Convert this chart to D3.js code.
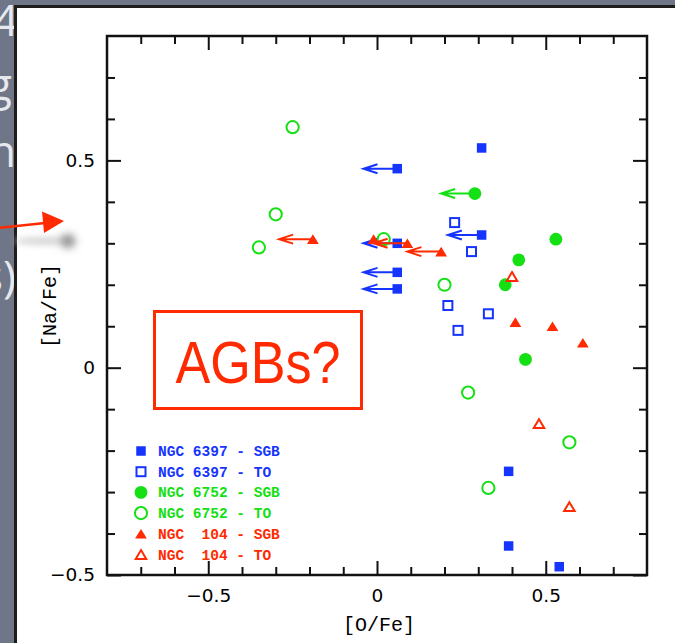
<!DOCTYPE html>
<html>
<head>
<meta charset="utf-8">
<script src="https://cdn.jsdelivr.net/npm/d3@7"></script>
<style>
  html, body { margin: 0; padding: 0; background: #6f7687; }
  svg { display: block; }
  .tick text { font-family: "DejaVu Sans", sans-serif; font-size: 18.5px; fill: #000; }
</style>
</head>
<body>
<svg id="chart" width="675" height="643"></svg>
<script>
// [O/Fe] vs [Na/Fe] for SGB and turn-off stars in three globular clusters.
// Each point: [O/Fe, Na/Fe, upper limit on O (true/false)]
const ngc6397Sgb = [
  [0.31, 0.53, false], [0.06, 0.48, true], [0.31, 0.32, true], [0.06, 0.30, true],
  [0.06, 0.23, true], [0.06, 0.19, true], [0.39, -0.25, false], [0.39, -0.43, false],
  [0.54, -0.48, false]
];
const ngc6397To = [
  [0.23, 0.35, false], [0.28, 0.28, false], [0.21, 0.15, false], [0.33, 0.13, false],
  [0.24, 0.09, false]
];
const ngc6752Sgb = [
  [0.29, 0.42, true], [0.53, 0.31, false], [0.42, 0.26, false], [0.38, 0.20, false],
  [0.44, 0.02, false]
];
const ngc6752To = [
  [-0.25, 0.58, false], [-0.30, 0.37, false], [-0.35, 0.29, false], [0.02, 0.31, false],
  [0.20, 0.20, false], [0.27, -0.06, false], [0.57, -0.18, false], [0.33, -0.29, false]
];
const ngc104Sgb = [
  [-0.19, 0.31, true], [-0.01, 0.31, false], [0.09, 0.30, true], [0.19, 0.28, true],
  [0.41, 0.11, false], [0.52, 0.10, false], [0.61, 0.06, false]
];
const ngc104To = [
  [0.40, 0.22, false], [0.48, -0.135, false], [0.57, -0.335, false]
];

const legendLabels = [
  "NGC 6397 - SGB", "NGC 6397 - TO", "NGC 6752 - SGB",
  "NGC 6752 - TO", "NGC  104 - SGB", "NGC  104 - TO"
];
const xMajorTicks = [-0.5, 0, 0.5];
const yMajorTicks = [-0.5, 0, 0.5];
const xMinorTicks = [-0.7, -0.6, -0.4, -0.3, -0.2, -0.1, 0.1, 0.2, 0.3, 0.4, 0.6, 0.7];
const yMinorTicks = [-0.4, -0.3, -0.2, -0.1, 0.1, 0.2, 0.3, 0.4, 0.6, 0.7];
const limitArrowLength = 0.1;   // length of upper-limit arrows in [O/Fe] units
const calloutText = "AGBs?";

const BLUE = "#1535ff", GREEN = "#14e014", RED = "#ff2a00";

const series = [
  { data: ngc6397Sgb, color: BLUE,  shape: "square",   filled: true  },
  { data: ngc6397To,  color: BLUE,  shape: "square",   filled: false },
  { data: ngc6752Sgb, color: GREEN, shape: "circle",   filled: true  },
  { data: ngc6752To,  color: GREEN, shape: "circle",   filled: false },
  { data: ngc104Sgb,  color: RED,   shape: "triangle", filled: true  },
  { data: ngc104To,   color: RED,   shape: "triangle", filled: false }
];

const svg = d3.select("#chart");
const W = 675, H = 643;

// ---- slide backdrop behind the figure panel ----
const defs = svg.append("defs");
defs.append("filter").attr("id", "soft").attr("x", "-100%").attr("y", "-100%")
  .attr("width", "300%").attr("height", "300%")
  .append("feGaussianBlur").attr("stdDeviation", 4);
defs.append("filter").attr("id", "haze").attr("x", "-50%").attr("y", "-200%")
  .attr("width", "200%").attr("height", "500%")
  .append("feGaussianBlur").attr("stdDeviation", 3);

svg.append("rect").attr("width", W).attr("height", H).attr("fill", "#6f7687");

const slideText = svg.append("g")
  .attr("font-family", "'Open Sans', 'DejaVu Sans', sans-serif")
  .attr("font-size", 44).attr("fill", "#e6e8ee").attr("font-weight", 400);
slideText.append("text").attr("x", -7).attr("y", 36).text("4");
slideText.append("text").attr("x", -12).attr("y", 100).text("g");
slideText.append("text").attr("x", -11).attr("y", 167).text("h");
slideText.append("text").attr("x", -18).attr("y", 292).text("s)");

// figure panel
svg.append("rect").attr("x", 14).attr("y", 5).attr("width", W).attr("height", H)
  .attr("fill", "#1d1d1d");
svg.append("rect").attr("x", 17).attr("y", 8).attr("width", W).attr("height", H)
  .attr("fill", "#ffffff");

// smudge near the y axis
svg.append("ellipse").attr("cx", 45).attr("cy", 241).attr("rx", 30).attr("ry", 4)
  .attr("fill", "#d6d6d6").attr("filter", "url(#haze)");
svg.append("circle").attr("cx", 68).attr("cy", 241).attr("r", 7)
  .attr("fill", "#8e8e8e").attr("filter", "url(#soft)");

// ---- plot ----
const plot = { left: 107, right: 647, top: 36, bottom: 575 };
const x = d3.scaleLinear().domain([-0.8, 0.8]).range([plot.left, plot.right]);
const y = d3.scaleLinear().domain([-0.5, 0.8]).range([plot.bottom, plot.top]);

const axes = svg.append("g").attr("stroke-width", 2);
function styleAxis(g) {
  g.select(".domain").remove();
  g.selectAll(".tick line").attr("stroke", "#111").attr("stroke-width", 2);
}
// minor ticks (all four sides, inward)
axes.append("g").attr("transform", `translate(0,${plot.bottom})`)
  .call(d3.axisBottom(x).tickValues(xMinorTicks).tickSize(-8).tickFormat(""))
  .call(styleAxis);
axes.append("g").attr("transform", `translate(0,${plot.top})`)
  .call(d3.axisTop(x).tickValues(xMinorTicks).tickSize(-8).tickFormat(""))
  .call(styleAxis);
axes.append("g").attr("transform", `translate(${plot.left},0)`)
  .call(d3.axisLeft(y).tickValues(yMinorTicks).tickSize(-8).tickFormat(""))
  .call(styleAxis);
axes.append("g").attr("transform", `translate(${plot.right},0)`)
  .call(d3.axisRight(y).tickValues(yMinorTicks).tickSize(-8).tickFormat(""))
  .call(styleAxis);
// major ticks with labels
const fmt = d => d === 0 ? "0" : d3.format("")(d);
axes.append("g").attr("transform", `translate(0,${plot.bottom})`)
  .call(d3.axisBottom(x).tickValues(xMajorTicks).tickSize(-14).tickPadding(13.5).tickFormat(fmt))
  .call(styleAxis);
axes.append("g").attr("transform", `translate(0,${plot.top})`)
  .call(d3.axisTop(x).tickValues(xMajorTicks).tickSize(-14).tickFormat(""))
  .call(styleAxis);
axes.append("g").attr("transform", `translate(${plot.left},0)`)
  .call(d3.axisLeft(y).tickValues(yMajorTicks).tickSize(-14).tickPadding(12).tickFormat(fmt))
  .call(styleAxis);
axes.append("g").attr("transform", `translate(${plot.right},0)`)
  .call(d3.axisRight(y).tickValues(yMajorTicks).tickSize(-14).tickFormat(""))
  .call(styleAxis);
svg.selectAll(".tick text").attr("fill", "#000");

// frame
svg.append("rect")
  .attr("x", plot.left).attr("y", plot.top)
  .attr("width", plot.right - plot.left).attr("height", plot.bottom - plot.top)
  .attr("fill", "none").attr("stroke", "#111").attr("stroke-width", 2.5);

// axis titles
svg.append("text").attr("x", (plot.left + plot.right) / 2 + 2).attr("y", 631)
  .attr("text-anchor", "middle").attr("font-family", "'Liberation Mono', monospace")
  .attr("font-size", 20).attr("fill", "#000").text("[O/Fe]");
svg.append("text").attr("transform", "translate(56,306) rotate(-90)")
  .attr("text-anchor", "middle").attr("font-family", "'Liberation Mono', monospace")
  .attr("font-size", 20).attr("fill", "#000").text("[Na/Fe]");

// ---- markers ----
function drawMarker(g, shape, filled, color) {
  if (shape === "square") {
    const s = filled ? 9.5 : 9;
    g.append("rect").attr("x", -s / 2).attr("y", -s / 2).attr("width", s).attr("height", s)
      .attr("fill", filled ? color : "none").attr("stroke", filled ? "none" : color)
      .attr("stroke-width", 2);
  } else if (shape === "circle") {
    g.append("circle").attr("r", filled ? 6.4 : 6.1)
      .attr("fill", filled ? color : "none").attr("stroke", filled ? "none" : color)
      .attr("stroke-width", 2);
  } else {
    const w = filled ? 11.8 : 10.5, h = filled ? 9.6 : 8.8;
    g.append("path").attr("d", `M0,${-h / 2}L${w / 2},${h / 2}L${-w / 2},${h / 2}Z`)
      .attr("fill", filled ? color : "none").attr("stroke", filled ? "none" : color)
      .attr("stroke-width", 2).attr("stroke-linejoin", "miter");
  }
}

const marks = svg.append("g");
series.forEach(s => {
  const grp = marks.append("g");
  // upper-limit arrows pointing to lower [O/Fe]
  s.data.filter(d => d[2]).forEach(d => {
    const x0 = x(d[0]), x1 = x(d[0] - limitArrowLength), yy = y(d[1]);
    grp.append("path")
      .attr("d", `M${x0},${yy}L${x1},${yy}M${x1 + 14},${yy - 4.5}L${x1},${yy}L${x1 + 14},${yy + 4.5}`)
      .attr("fill", "none").attr("stroke", s.color).attr("stroke-width", 2);
  });
  s.data.forEach(d => {
    const m = grp.append("g").attr("transform", `translate(${x(d[0])},${y(d[1])})`);
    drawMarker(m, s.shape, s.filled, s.color);
  });
});

// ---- legend ----
const legend = svg.append("g").attr("transform", "translate(141,451)");
series.forEach((s, i) => {
  const row = legend.append("g").attr("transform", `translate(0,${i * 20.7})`);
  drawMarker(row, s.shape, s.filled, s.color);
  row.append("text").attr("x", 17).attr("y", 5)
    .attr("font-family", "'Liberation Mono', monospace").attr("font-weight", "bold")
    .attr("font-size", 14.5).attr("fill", s.color)
    .style("white-space", "pre").text(legendLabels[i]);
});

// ---- callout box ----
svg.append("rect").attr("x", 154.5).attr("y", 311.5).attr("width", 207).attr("height", 97)
  .attr("fill", "none").attr("stroke", RED).attr("stroke-width", 3);
svg.append("text").attr("x", 258).attr("y", 383)
  .attr("text-anchor", "middle").attr("font-family", "'Liberation Sans', Arial, sans-serif")
  .attr("font-size", 60).attr("fill", RED)
  .attr("textLength", 165).attr("lengthAdjust", "spacingAndGlyphs")
  .text(calloutText);

// pointer arrow from the slide
svg.append("line").attr("x1", -2).attr("y1", 228).attr("x2", 45).attr("y2", 223)
  .attr("stroke", RED).attr("stroke-width", 2.5);
svg.append("path").attr("d", "M64,221L42,211.5L44,233Z").attr("fill", RED);
</script>
</body>
</html>
